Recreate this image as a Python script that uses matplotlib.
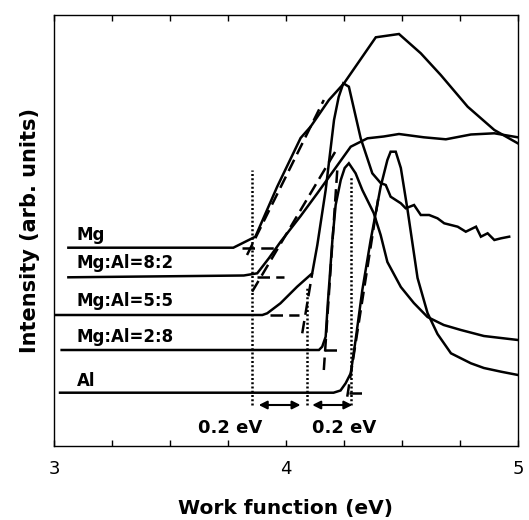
import matplotlib
matplotlib.use("Agg")
import matplotlib.pyplot as plt
from matplotlib.ticker import MultipleLocator, FixedLocator

# ---------------- data (work function in eV, intensity in arb. units) ----------------
mg_x = [3.062, 3.773, 3.868, 3.962, 4.063, 4.106, 4.185, 4.250, 4.387, 4.487, 4.581,
        4.667, 4.783, 4.898, 4.999]
mg_y = [198.3, 198.3, 209.3, 259.3, 308, 319.3, 346, 362.7, 408.7, 412, 392.7,
        371, 339.3, 316, 302.7]

mg82_x = [3.062, 3.818, 3.876, 3.926, 3.976, 4.063, 4.135, 4.207, 4.279, 4.351, 4.421,
          4.487, 4.594, 4.689, 4.797, 4.898, 4.999]
mg82_y = [168.7, 170.5, 172.7, 187.7, 204, 230, 252.7, 276, 299.3, 307.7, 309.5,
          312, 308.7, 306.7, 311.5, 312.7, 308.7]

mg55_x = [3.004, 3.898, 3.919, 3.976, 4.048, 4.113, 4.135, 4.171, 4.207, 4.227, 4.247,
          4.271, 4.322, 4.372, 4.408, 4.430, 4.451, 4.495, 4.516, 4.552, 4.581, 4.617,
          4.653, 4.682, 4.740, 4.775, 4.819, 4.840, 4.869, 4.898, 4.927, 4.962]
mg55_y = [131, 131, 132.7, 142.7, 159.3, 172.7, 201, 256, 326, 349, 362.7,
          359.3, 307.7, 272.7, 263, 261, 249.3, 242.7, 237.7, 241, 231, 231,
          227.7, 222.7, 219.3, 214.3, 219.3, 209.3, 212.7, 206, 207.7, 209.3]

mg28_x = [3.033, 4.142, 4.156, 4.171, 4.180, 4.200, 4.214, 4.236, 4.253, 4.271, 4.300,
          4.329, 4.378, 4.408, 4.437, 4.495, 4.551, 4.610, 4.680, 4.754, 4.853, 5.0]
mg28_y = [96, 96, 99.3, 109.3, 142, 206, 241, 266, 278, 282.7, 272.7,
          256, 233, 211, 184, 159, 143, 129, 121, 116, 110, 106]

al_x = [3.026, 4.205, 4.235, 4.257, 4.279, 4.300, 4.329, 4.365, 4.408, 4.437, 4.451,
        4.473, 4.495, 4.524, 4.567, 4.610, 4.653, 4.711, 4.797, 4.853, 4.927, 5.0]
al_y = [53.3, 53.3, 55.5, 62.7, 72.7, 106, 156, 206, 259.3, 286, 294.3,
        294.3, 278, 236, 168, 133, 112, 92.7, 82.7, 78, 74.3, 71]

series = [(mg_x, mg_y), (mg82_x, mg82_y), (mg55_x, mg55_y), (mg28_x, mg28_y), (al_x, al_y)]

labels = ["Mg", "Mg:Al=8:2", "Mg:Al=5:5", "Mg:Al=2:8", "Al"]
label_y = [211, 182.7, 145.3, 109.3, 65.3]

# tangent (dashed) extrapolation lines: x pair, y pair
tan_slope_x = [[3.832, 4.163], [3.854, 4.221], [4.070, 4.113], [4.163, 4.221], [4.264, 4.401]]
tan_slope_y = [[191, 346], [154.3, 297.7], [112.7, 172.7], [76, 276], [49.3, 252.7]]
tan_base_x = [[3.811, 3.947], [3.876, 3.991], [3.933, 4.054], [4.165, 4.235], [4.271, 4.351]]
tan_base_y = [198.3, 168.7, 131, 96, 53.3]

# dotted markers of onset energies
onset_x = [3.854, 4.092, 4.279]
onset_top = [276, 158, 269.3]
onset_bottom = 41

# 0.2 eV arrows
arrow_x = [(3.8825, 4.0626), (4.1132, 4.286)]
arrow_y = 41
arrow_text = ["0.2 eV", "0.2 eV"]
arrow_text_x = [3.760, 4.250]
arrow_text_y = 17.7

xticks_major = [3, 4, 5]

# ---------------- drawing ----------------
fig = plt.figure(figsize=(5.29, 5.20), dpi=100)
ax = fig.add_axes([54 / 529, 1 - 446 / 520, (518 - 54) / 529, (446 - 15) / 520])

lw = 1.8
for xs, ys in series:
    ax.plot(xs, ys, color="black", lw=lw, solid_joinstyle="miter")

dash = (0, (5, 2.5))
for xs, ys in zip(tan_slope_x, tan_slope_y):
    ax.plot(xs, ys, color="black", lw=lw, linestyle=dash)
for xs, yb in zip(tan_base_x, tan_base_y):
    ax.plot(xs, [yb, yb], color="black", lw=lw, linestyle=dash)

for xo, yt in zip(onset_x, onset_top):
    ax.plot([xo, xo], [onset_bottom, yt], color="black", lw=1.8, linestyle=(0, (0.8, 0.9)))

for (x0, x1) in arrow_x:
    ax.annotate("", xy=(x1, arrow_y), xytext=(x0, arrow_y),
                arrowprops=dict(arrowstyle="<|-|>", color="black", lw=1.5,
                                mutation_scale=12, shrinkA=0, shrinkB=0))
for t, tx in zip(arrow_text, arrow_text_x):
    ax.text(tx, arrow_text_y, t, fontsize=13, fontweight="bold", ha="center", va="center")

for lab, ly in zip(labels, label_y):
    ax.text(3.098, ly, lab, fontsize=12, fontweight="bold", ha="left", va="center")

ax.set_xlim(3, 5)
ax.set_ylim(0, 431)
ax.xaxis.set_major_locator(FixedLocator(xticks_major))
ax.xaxis.set_minor_locator(MultipleLocator(0.25))
ax.set_yticks([])
ax.tick_params(axis="x", which="both", direction="in", top=True, bottom=True,
               length=4, width=1, labelsize=13, pad=10)
for s in ax.spines.values():
    s.set_linewidth(1.0)

ax.set_xlabel("Work function (eV)", fontsize=14.5, fontweight="bold", labelpad=15)
ax.set_ylabel("Intensity (arb. units)", fontsize=15, fontweight="bold", labelpad=10)

fig.savefig("out.png", dpi=100)
